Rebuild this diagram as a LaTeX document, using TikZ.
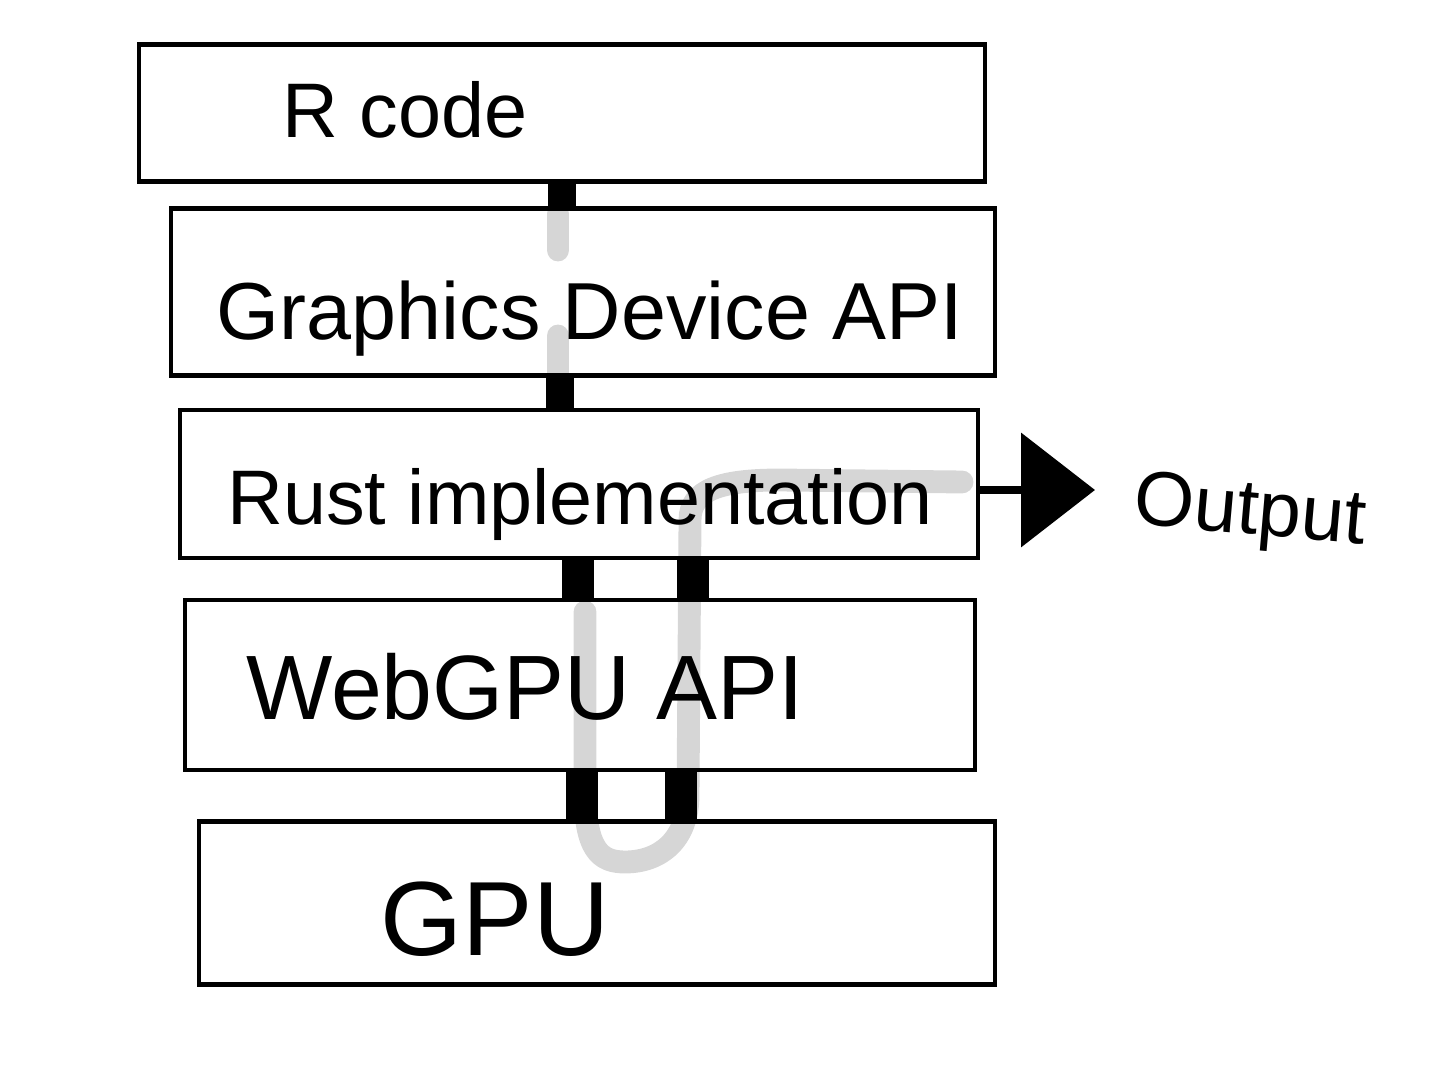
\documentclass[tikz,border=0pt]{standalone}
\usepackage{fontspec}
\setmainfont{Liberation Sans}
\usetikzlibrary{arrows.meta,calc,positioning}
\tikzset{
    %Define style for layers
    layer/.style={
        rectangle,
        draw=black, line width=1.2pt,
        inner sep=0pt,
    },
    txt/.style={
        draw = none,
        align = center,
        font = \fontsize{#1}{#1}\selectfont,
    },
    txt/.default=22,
    bus/.style={
        draw=black,
        line width=#1,
    },
    bus/.default=9pt,
    flow/.style={
        draw=black!16,
        line width=6.5pt,
        line cap=round,
        line join=round,
    },
    outarrow/.style={
        draw=black,
        line width=2.5pt,
        -{Triangle[length=21pt,width=32pt]},
    },
}

\begin{document}
\begin{tikzpicture}[x=0.01cm,y=-0.01cm]
    \useasboundingbox (0,0) rectangle (1440,1080);

    % gray flow behind everything
    \draw[flow] (558,214) -- (558,250);
    \draw[flow] (558,336) -- (558,396);
    \draw[flow] (585,612) -- (585,790)
        .. controls (585,850) and (600,862) .. (625,862)
        .. controls (660,862) and (688,840) .. (688,795)
        -- (690,520)
        .. controls (690,490) and (720,480) .. (780,480)
        -- (962,482);

    \node[layer, minimum width=8.45cm, minimum height=1.37cm] (rcode) at (562,113) {};
    \node[layer, minimum width=8.23cm, minimum height=1.67cm] (gda) at (583,292) {};
    \node[layer, minimum width=7.98cm, minimum height=1.48cm] (rust) at (579,484) {};
    \node[layer, minimum width=7.90cm, minimum height=1.70cm] (webgpu) at (580,685) {};
    \node[layer, minimum width=7.95cm, minimum height=1.63cm] (gpu) at (597,903) {};

    \node[txt, anchor=base] (rcodetxt) at (405,138) {R code};
    \node[txt=23, anchor=base] (gdatxt) at (590,340) {Graphics Device API};
    \node[txt, anchor=base] (rusttxt) at (580,525) {Rust implementation};
    \node[txt=26, anchor=base] (webgputxt) at (525,720) {WebGPU API};
    \node[txt=30, anchor=base] (gputxt) at (495,955) {GPU};
    \node[txt, rotate=-5] (output) at (1250,515) {Output};

    % links between layers
    \draw[bus=8pt] (562,0 |- rcode.south) -- (562,0 |- gda.north);
    \draw[bus=8pt] (560,0 |- gda.south) -- (560,0 |- rust.north);
    \draw[bus] (578,0 |- rust.south) -- (578,0 |- webgpu.north);
    \draw[bus] (693,0 |- rust.south) -- (693,0 |- webgpu.north);
    \draw[bus] (582,0 |- webgpu.south) -- (582,0 |- gpu.north);
    \draw[bus] (681,0 |- webgpu.south) -- (681,0 |- gpu.north);

    \coordinate (outtip) at (1095,490);
    \draw[outarrow] (rust.east |- outtip) -- (outtip);
\end{tikzpicture}
\end{document}
